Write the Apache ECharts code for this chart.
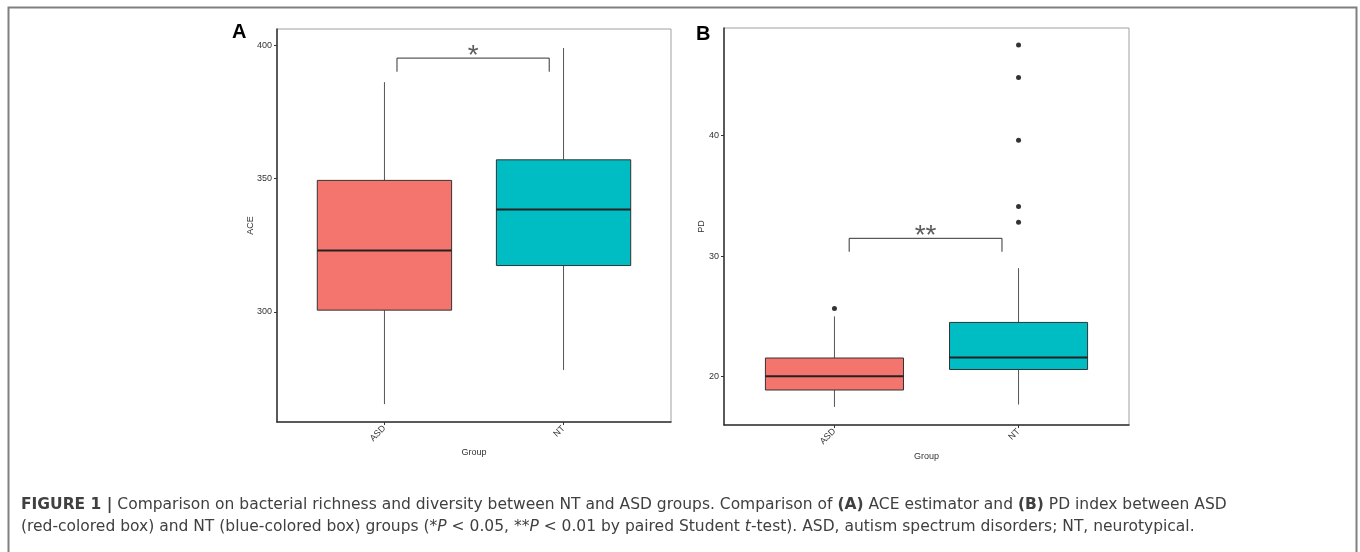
<!DOCTYPE html>
<html>
<head>
<meta charset="utf-8">
<title>ACE / PD boxplots</title>
<script src="https://cdn.jsdelivr.net/npm/echarts@6/dist/echarts.min.js"></script>
<style>
  html, body { margin: 0; padding: 0; background: #fff; }
  #main { width: 1360px; height: 552px; }
</style>
</head>
<body>
<div id="main"></div>
<script type="text/javascript">
    // groups and their positions on the x scale
    var groups = ['ASD', 'NT'];
    var groupPos = [1, 2];
    var boxColors = ['#F4756D', '#00BDC4'];

    // box stats: [min whisker, Q1, median, Q3, max whisker]
    var aceStats = [
        [265.5, 300.7, 323.0, 349.3, 386.1],
        [278.3, 317.4, 338.4, 357.0, 398.9]
    ];
    var pdStats = [
        [17.5, 18.9, 20.05, 21.55, 25.0],
        [17.7, 20.6, 21.6, 24.5, 29.0]
    ];
    // outliers [x, value]
    var pdOutliers = [[1, 25.65], [2, 47.5], [2, 44.8], [2, 39.6], [2, 34.1], [2, 32.8]];

    // tick labels
    var aceTicks = [300, 350, 400];
    var pdTicks = [20, 30, 40];

    // significance brackets
    var aceBracket = [[1.07, 390.0], [1.07, 395.1], [1.92, 395.1], [1.92, 390.0]];
    var pdBracket = [[1.08, 30.36], [1.08, 31.47], [1.91, 31.47], [1.91, 30.36]];
    var aceSig = '*';
    var pdSig = '**';

    var font = '"Liberation Sans", Arial, sans-serif';
    var capFont = '"DejaVu Sans", sans-serif';

    function withPos(stats) {
        var out = [];
        for (var i = 0; i < stats.length; i++) {
            out.push([groupPos[i]].concat(stats[i]));
        }
        return out;
    }

    function renderBox(params, api) {
        var x = api.value(0);
        var lo = api.coord([x, api.value(1)]);
        var q1 = api.coord([x, api.value(2)]);
        var med = api.coord([x, api.value(3)]);
        var q3 = api.coord([x, api.value(4)]);
        var hi = api.coord([x, api.value(5)]);
        var w = api.size([0.75, 0])[0];
        return {
            type: 'group',
            children: [
                {type: 'line', shape: {x1: lo[0], y1: lo[1], x2: q1[0], y2: q1[1]},
                    style: {stroke: '#555', lineWidth: 1}},
                {type: 'line', shape: {x1: q3[0], y1: q3[1], x2: hi[0], y2: hi[1]},
                    style: {stroke: '#555', lineWidth: 1}},
                {type: 'rect', shape: {x: q3[0] - w / 2, y: q3[1], width: w, height: q1[1] - q3[1]},
                    style: {fill: boxColors[params.dataIndex], stroke: '#333', lineWidth: 1}},
                {type: 'line', shape: {x1: med[0] - w / 2, y1: med[1], x2: med[0] + w / 2, y2: med[1]},
                    style: {stroke: '#222', lineWidth: 2}}
            ]
        };
    }

    function xAxisFor(gridIndex, gap) {
        return {
            type: 'value', gridIndex: gridIndex, min: 0.4, max: 2.6,
            name: 'Group', nameLocation: 'middle', nameGap: gap, nameMoveOverlap: false,
            nameTextStyle: {fontFamily: font, fontSize: 9, color: '#333'},
            splitLine: {show: false},
            axisLine: {onZero: false, lineStyle: {color: '#333', width: 1.5}},
            axisTick: {customValues: groupPos, length: 3, lineStyle: {color: '#333'}},
            axisLabel: {
                customValues: groupPos, rotate: 45, margin: 5,
                fontFamily: font, fontSize: 9, color: '#333',
                formatter: function (v) { return groups[Math.round(v) - 1] || ''; }
            }
        };
    }

    function yAxisFor(gridIndex, min, max, ticks, title, gap) {
        return {
            type: 'value', gridIndex: gridIndex, min: min, max: max,
            name: title, nameLocation: 'middle', nameGap: gap, nameRotate: 90, nameMoveOverlap: false,
            nameTextStyle: {fontFamily: font, fontSize: 9, color: '#333'},
            splitLine: {show: false},
            axisLine: {show: true, onZero: false, lineStyle: {color: '#333', width: 1.5}},
            axisTick: {customValues: ticks, length: 3, lineStyle: {color: '#333'}},
            axisLabel: {customValues: ticks, margin: 5, fontFamily: font, fontSize: 9, color: '#333'}
        };
    }

    var myChart = echarts.init(document.getElementById('main'));

    var option = {
        animation: false,
        grid: [
            {left: 277, top: 29, width: 394, height: 393, show: true, borderColor: '#a0a0a0', borderWidth: 1},
            {left: 724, top: 28, width: 405, height: 397, show: true, borderColor: '#a0a0a0', borderWidth: 1}
        ],
        xAxis: [xAxisFor(0, 26), xAxisFor(1, 27)],
        yAxis: [
            yAxisFor(0, 258.8, 406, aceTicks, 'ACE', 22),
            yAxisFor(1, 16.0, 48.9, pdTicks, 'PD', 18)
        ],
        graphic: [
            {type: 'rect', left: 6, top: 5, shape: {width: 1348, height: 560},
                style: {fill: 'none', stroke: '#808080', lineWidth: 2}, silent: true},
            {type: 'text', left: 232, top: 22,
                style: {text: 'A', font: 'bold 20px ' + font, fill: '#000'}},
            {type: 'text', left: 696, top: 24,
                style: {text: 'B', font: 'bold 20px ' + font, fill: '#000'}},
            {type: 'text', left: 21, top: 494,
                style: {
                    text: '{b|FIGURE 1 |} Comparison on bacterial richness and diversity between NT and ASD groups. Comparison of {b|(A)} ACE estimator and {b|(B)} PD index between ASD\n' +
                          '(red-colored box) and NT (blue-colored box) groups (*{i|P} < 0.05, **{i|P} < 0.01 by paired Student {i|t}-test). ASD, autism spectrum disorders; NT, neurotypical.',
                    fontFamily: capFont, fontSize: 15.5, fill: '#404040', lineHeight: 22,
                    rich: {
                        b: {fontFamily: capFont, fontSize: 15.5, fontWeight: 'bold', fill: '#404040', lineHeight: 22},
                        i: {fontFamily: capFont, fontSize: 15.5, fontStyle: 'italic', fill: '#404040', lineHeight: 22}
                    }
                }}
        ],
        series: [
            {
                type: 'custom', xAxisIndex: 0, yAxisIndex: 0,
                renderItem: renderBox,
                encode: {x: 0, y: [1, 2, 3, 4, 5]},
                data: withPos(aceStats)
            },
            {
                type: 'custom', xAxisIndex: 1, yAxisIndex: 1,
                renderItem: renderBox,
                encode: {x: 0, y: [1, 2, 3, 4, 5]},
                data: withPos(pdStats)
            },
            {
                type: 'scatter', xAxisIndex: 1, yAxisIndex: 1,
                symbolSize: 5, itemStyle: {color: '#000'},
                data: pdOutliers
            },
            {
                type: 'line', xAxisIndex: 0, yAxisIndex: 0, symbol: 'none',
                lineStyle: {color: '#333', width: 1}, data: aceBracket
            },
            {
                type: 'line', xAxisIndex: 1, yAxisIndex: 1, symbol: 'none',
                lineStyle: {color: '#333', width: 1}, data: pdBracket
            },
            {
                type: 'scatter', xAxisIndex: 0, yAxisIndex: 0, symbolSize: 0,
                data: [[(aceBracket[1][0] + aceBracket[2][0]) / 2, aceBracket[1][1]]],
                label: {show: true, position: 'top', distance: -12, formatter: aceSig,
                    fontFamily: font, fontSize: 28, color: '#333'}
            },
            {
                type: 'scatter', xAxisIndex: 1, yAxisIndex: 1, symbolSize: 0,
                data: [[(pdBracket[1][0] + pdBracket[2][0]) / 2, pdBracket[1][1]]],
                label: {show: true, position: 'top', distance: -12, formatter: pdSig,
                    fontFamily: font, fontSize: 28, color: '#333'}
            }
        ]
    };

    myChart.setOption(option);
</script>
</body>
</html>
